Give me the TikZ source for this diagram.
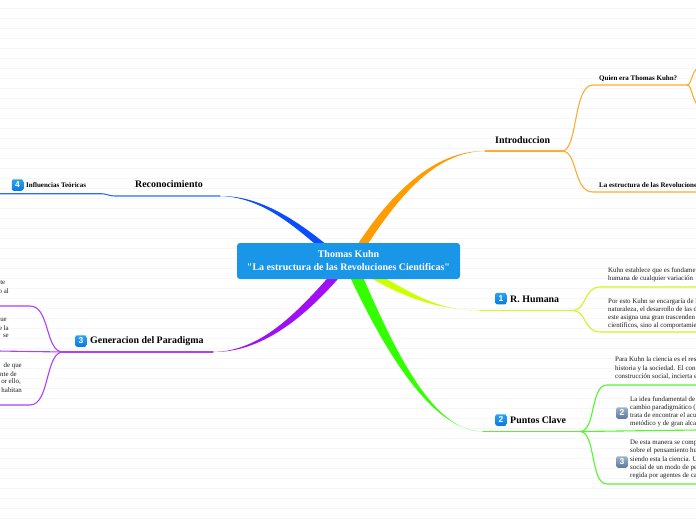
\documentclass[tikz,border=0pt]{standalone}
\usepackage{fontspec}
\setmainfont{Liberation Serif}
\setsansfont{Liberation Sans}
\newfontfamily\rootfont{Liberation Serif}
\definecolor{cBox}{HTML}{1A96E8}
\definecolor{cOrange}{HTML}{FF9C00}
\definecolor{cOrangeT}{HTML}{FFAB33}
\definecolor{cBlue}{HTML}{0A4DFF}
\definecolor{cBlueT}{HTML}{2A6BFF}
\definecolor{cPurple}{HTML}{A010F5}
\definecolor{cPurpleT}{HTML}{B040F5}
\definecolor{cLime}{HTML}{CCFF00}
\definecolor{cLimeT}{HTML}{D0F520}
\definecolor{cGreen}{HTML}{33FF00}
\definecolor{cGreenT}{HTML}{55F530}
\definecolor{cRule}{HTML}{F6F6F6}
\definecolor{cInk}{HTML}{1C1C1C}
\definecolor{cIconTop}{HTML}{2AA5F5}
\definecolor{cIconBot}{HTML}{0A78E0}
\definecolor{cGreyTop}{HTML}{9DB2CC}
\definecolor{cGreyBot}{HTML}{5A7A9E}
\tikzset{
  rootbox/.style={fill=cBox,rounded corners=3pt,minimum width=223pt,minimum height=36pt,inner sep=0pt,text=white,align=center,font=\rootfont\bfseries\fontsize{10}{13}\selectfont},
  mainlabel/.style={anchor=west,inner sep=0pt,text=black,font=\bfseries\fontsize{9.9}{12}\selectfont},
  sublabel/.style={anchor=west,inner sep=0pt,text=black,font=\bfseries\fontsize{7}{8}\selectfont},
  para/.style={anchor=north west,inner sep=0pt,text=cInk,align=left,font=\fontsize{6.9}{8.2}\selectfont},
  frag/.style={anchor=east,inner sep=0pt,text=cInk,font=\fontsize{6.9}{8.2}\selectfont},
  iconbase/.style={rounded corners=2pt,minimum size=11.5pt,inner sep=0pt,text=white,font=\sffamily\bfseries\fontsize{8.5}{8.5}\selectfont},
  iconblue/.style={iconbase,top color=cIconTop,bottom color=cIconBot},
  icongrey/.style={iconbase,top color=cGreyTop,bottom color=cGreyBot},
  thin line/.style={line width=1.1pt,line cap=round},
}
\begin{document}
\begin{tikzpicture}[x=1pt,y=-1pt]
\useasboundingbox (0,0) rectangle (696,520);
\clip (0,0) rectangle (696,520);
\fill[white] (0,0) rectangle (696,520);
\foreach \yy in {8,18,...,518} \draw[cRule,line width=0.7pt] (0,\yy) -- (696,\yy);

% coordinates
\coordinate (oE) at (485,151);  \coordinate (oF) at (562,151);
\coordinate (oU) at (593,85);   \coordinate (oU2) at (687,85);
\coordinate (oUa) at (698,68);  \coordinate (oUb) at (698,106);
\coordinate (oL) at (593,192);  \coordinate (oL2) at (698,192);
\coordinate (bE) at (220,196);  \coordinate (bM) at (115,196);
\coordinate (bN) at (100,193.7);\coordinate (bL) at (-2,193.7);
\coordinate (pE) at (213,352);  \coordinate (pF) at (63,352);
\coordinate (pU) at (30,306);   \coordinate (pUe) at (-2,306);
\coordinate (pM) at (-2,351);
\coordinate (pD) at (30,405);   \coordinate (pDe) at (-2,405);
\coordinate (lE) at (480,310.5);\coordinate (lF) at (573,310.5);
\coordinate (lU) at (600,287);  \coordinate (lUe) at (698,287);
\coordinate (lD) at (600,332);  \coordinate (lDe) at (698,332);
\coordinate (gE) at (483,431.5);\coordinate (gF) at (580,431.5);
\coordinate (gU) at (607,385);  \coordinate (gUe) at (698,385);
\coordinate (gM) at (698,430);
\coordinate (gD) at (607,484);  \coordinate (gDe) at (698,484);

% tapered main branches (run under the central box)
\fill[cOrange] (354,250) .. controls (396,184) and (440,150.5) .. (oE)
   .. controls (440,152) and (404,187) .. (364,250) -- cycle;
\fill[cBlue] (333,250) .. controls (297,220) and (260,195.5) .. (bE)
   .. controls (260,197) and (292,224) .. (322,250) -- cycle;
\fill[cPurple] (344,272) .. controls (303,320) and (260,352.6) .. (pE)
   .. controls (260,351.4) and (296,314) .. (333,272) -- cycle;
\fill[cLime] (383,277) .. controls (415,295) and (440,311) .. (lE)
   .. controls (440,310) and (405,298) .. (369,277) -- cycle;
\fill[cGreen] (363,277) .. controls (398,358) and (435,432) .. (gE)
   .. controls (435,431) and (389,360) .. (350,277) -- cycle;

% thin branches
\draw[cOrangeT,thin line] (oE) -- (oF);
\draw[cOrangeT,thin line] (oF) .. controls (578,151) and (573,85) .. (oU) -- (oU2);
\draw[cOrangeT,thin line] (oF) .. controls (578,151) and (573,192) .. (oL) -- (oL2);
\draw[cOrangeT,thin line] (oU2) .. controls (692,85) and (691,72) .. (oUa);
\draw[cOrangeT,thin line] (oU2) .. controls (692,85) and (691,97) .. (oUb);
\draw[cBlueT,thin line] (bE) -- (bM) .. controls (108,196) and (108,193.7) .. (bN) -- (bL);
\draw[cPurpleT,thin line] (pE) -- (pF);
\draw[cPurpleT,thin line] (pF) .. controls (45,352) and (50,306) .. (pU) -- (pUe);
\draw[cPurpleT,thin line] (pF) -- (pM);
\draw[cPurpleT,thin line] (pF) .. controls (45,352) and (50,405) .. (pD) -- (pDe);
\draw[cLimeT,thin line] (lE) -- (lF);
\draw[cLimeT,thin line] (lF) .. controls (586,310.5) and (584,287) .. (lU) -- (lUe);
\draw[cLimeT,thin line] (lF) .. controls (586,310.5) and (584,332) .. (lD) -- (lDe);
\draw[cGreenT,thin line] (gE) -- (gF);
\draw[cGreenT,thin line] (gF) .. controls (596,431.5) and (590,385) .. (gU) -- (gUe);
\draw[cGreenT,thin line] (gF) -- (gM);
\draw[cGreenT,thin line] (gF) .. controls (596,431.5) and (590,484) .. (gD) -- (gDe);

% central box
\node[rootbox] (root) at (348.5,261) {Thomas Kuhn\\"La estructura de las Revoluciones Cientificas"};

% main labels
\node[mainlabel] (intro) at (495,140) {Introduccion};
\node[mainlabel] (recon) at (135,184.5) {Reconocimiento};
\node[mainlabel] (gen) at (90,341) {Generacion del Paradigma};
\node[mainlabel] (hum) at (510,299) {R. Humana};
\node[mainlabel] (clave) at (510,420) {Puntos Clave};

% sub labels
\node[sublabel] (quien) at (599,78.5) {Quien era Thomas Kuhn?};
\node[sublabel] (estr) at (599,185) {La estructura de las Revoluciones};
\node[sublabel] (infl) at (26,185) {Influencias Teóricas};

% icons
\node[iconblue] (i4) at (17.5,185) {4};
\node[iconblue] (i3) at (81,341) {3};
\node[iconblue] (i1) at (501,298.5) {1};
\node[iconblue] (i2) at (501,420) {2};
\node[icongrey] (g2) at (622,413) {2};
\node[icongrey] (g3) at (622,462) {3};

% right paragraphs
\node[para] (h1) at (608,267) {Kuhn establece que es fundame\\humana de cualquier variación};
\node[para] (h2) at (608,298) {Por esto Kuhn se encargaría de l\\naturaleza, el desarrollo de las d\\este asigna una gran trascenden\\científicos, sino al comportamie};
\node[para] (c1) at (615,357) {Para Kuhn la ciencia es el res\\historia y la sociedad. El con\\construcción social, incierta e};
\node[para] (c2) at (630,396) {La idea fundamental de\\cambio paradigmático (\\trata de encontrar el acu\\metódico y de gran alca};
\node[para] (c3) at (630,440) {De esta manera se comp\\sobre el pensamiento hu\\siendo esta la ciencia. U\\social de un modo de pe\\regida por agentes de ca};

% left fragments
\node[frag] (f1) at (5.5,283) {te};
\node[frag] (f2) at (9,291) {o al};
\node[frag] (f3) at (7,320) {ue};
\node[frag] (f4) at (9,328) {e la};
\node[frag] (f5) at (9,336) {se};
\node[frag] (f6) at (22,366) {de que};
\node[frag] (f7) at (17,374) {nte de};
\node[frag] (f8) at (21,382) {or ello,};
\node[frag] (f9) at (22,390) {habitan};
\end{tikzpicture}
\end{document}
